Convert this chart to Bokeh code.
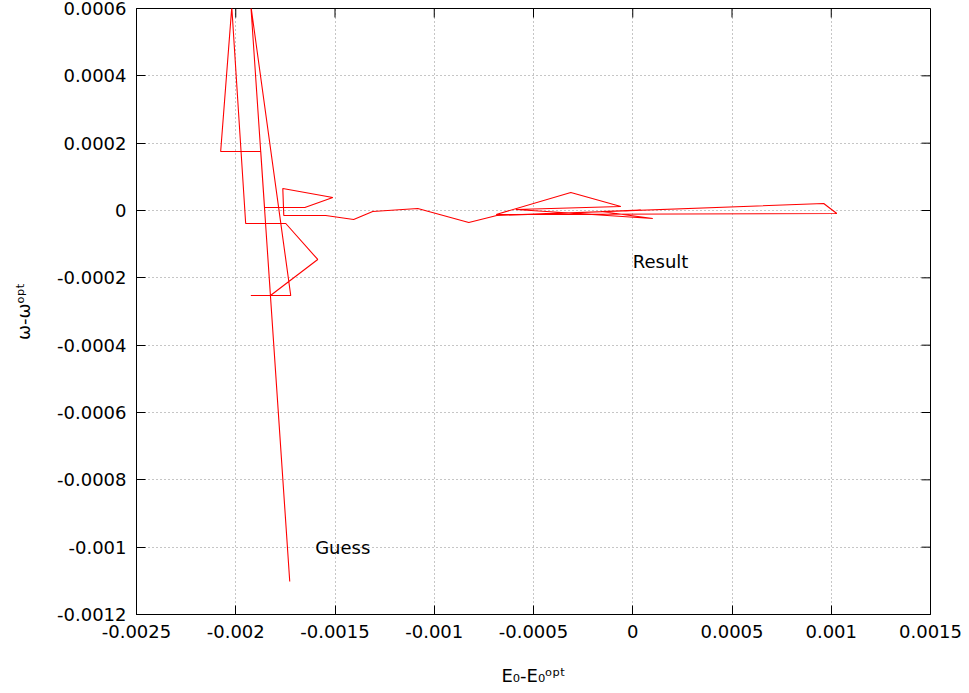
from bokeh.embed import file_html
from bokeh.models import FixedTicker, Label, Range1d
from bokeh.plotting import figure
from bokeh.resources import INLINE

# Optimisation path in the (E0 - E0opt, omega - omega_opt) plane, starting at the guess
e0_diff = [-1.728e-3, -1.924e-3, -1.723e-3, -1.924e-3, -1.825e-3, -1.587e-3,
           -1.748e-3, -1.950e-3, -2.020e-3, -2.076e-3, -1.874e-3, -1.855e-3,
           -1.652e-3, -1.511e-3, -1.763e-3, -1.758e-3, -1.547e-3, -1.406e-3,
           -1.310e-3, -1.083e-3, -0.826e-3, -0.685e-3, 0.962e-3, 1.028e-3,
           -0.688e-3, -0.312e-3, -0.060e-3, -0.589e-3, 0.101e-3, -0.161e-3,
           0.040e-3, -0.035e-3, 0.0]
omega_diff = [-1.102e-3, 0.609e-3, -0.2525e-3, -0.2525e-3, -0.2525e-3, -0.1455e-3,
              -0.0386e-3, -0.0386e-3, 0.604e-3, 0.1752e-3, 0.1752e-3, 0.009e-3,
              0.009e-3, 0.0386e-3, 0.0653e-3, -0.0149e-3, -0.0149e-3, -0.0267e-3,
              -0.003e-3, 0.006e-3, -0.0356e-3, -0.0149e-3, 0.0208e-3, -0.0089e-3,
              -0.0119e-3, 0.0535e-3, 0.012e-3, 0.003e-3, -0.0238e-3, -0.003e-3,
              0.0015e-3, -0.0015e-3, 0.0]

x_ticks = [-0.0025, -0.002, -0.0015, -0.001, -0.0005, 0.0, 0.0005, 0.001, 0.0015]
x_tick_labels = ["-0.0025", "-0.002", "-0.0015", "-0.001", "-0.0005", "0",
                 "0.0005", "0.001", "0.0015"]
y_ticks = [0.0006, 0.0004, 0.0002, 0.0, -0.0002, -0.0004, -0.0006, -0.0008,
           -0.001, -0.0012]
y_tick_labels = ["0.0006", "0.0004", "0.0002", "0", "-0.0002", "-0.0004",
                 "-0.0006", "-0.0008", "-0.001", "-0.0012"]

x_title = "E\u2080-E\u2080\u1d52\u1d56\u1d57"
y_title = "\u03c9-\u03c9\u1d52\u1d56\u1d57"

X_MIN, X_MAX = -0.0025, 0.0015
Y_MIN, Y_MAX = -0.0012, 0.0006

W, H = 969, 693
LEFT, RIGHT, TOP, BOTTOM = 136, 39, 8, 79
FRAME_W = W - LEFT - RIGHT
FRAME_H = H - TOP - BOTTOM

FONT = "DejaVu Sans"
FS = "18px"

p = figure(width=W, height=H, x_range=Range1d(X_MIN, X_MAX),
           y_range=Range1d(Y_MIN, Y_MAX), output_backend="svg",
           toolbar_location=None, min_border_left=LEFT, min_border_right=RIGHT,
           min_border_top=TOP, min_border_bottom=BOTTOM)
p.background_fill_color = "white"
p.border_fill_color = "white"
p.outline_line_color = "black"
p.outline_line_width = 1

p.xaxis.axis_label = x_title
p.yaxis.axis_label = y_title
p.xaxis.axis_label_standoff = 24
p.yaxis.axis_label_standoff = 20

for ax, ticks, labels in ((p.xaxis[0], x_ticks, x_tick_labels),
                          (p.yaxis[0], y_ticks, y_tick_labels)):
    ax.ticker = FixedTicker(ticks=ticks)
    ax.major_label_overrides = dict(zip(ticks, labels))
    ax.major_label_text_font = FONT
    ax.major_label_text_font_size = FS
    ax.major_label_text_color = "black"
    ax.axis_label_text_font = FONT
    ax.axis_label_text_font_size = FS
    ax.axis_label_text_font_style = "normal"
    ax.axis_label_text_color = "black"
    ax.major_tick_in = 9
    ax.major_tick_out = 0
    ax.major_tick_line_color = "black"
    ax.minor_tick_line_color = None
    ax.axis_line_color = "black"
    ax.major_label_standoff = 10

for g in (p.xgrid[0], p.ygrid[0]):
    g.grid_line_color = "#8c8c8c"
    g.grid_line_dash = "1 3"
    g.grid_line_width = 1

# mirrored inward ticks on the top and right edges
tick_dy = 9 * (Y_MAX - Y_MIN) / FRAME_H
tick_dx = 9 * (X_MAX - X_MIN) / FRAME_W
p.segment(x0=x_ticks, y0=[Y_MAX] * len(x_ticks), x1=x_ticks,
          y1=[Y_MAX - tick_dy] * len(x_ticks), line_color="black", line_width=1)
p.segment(x0=[X_MAX] * len(y_ticks), y0=y_ticks, x1=[X_MAX - tick_dx] * len(y_ticks),
          y1=y_ticks, line_color="black", line_width=1)

p.line(e0_diff, omega_diff, line_color="#ff0000", line_width=1.1)

for txt, x, y in (("Guess", -0.0016, -0.001), ("Result", 0.0, -0.00015)):
    p.add_layout(Label(x=x, y=y, text=txt, text_font=FONT, text_font_size=FS,
                       text_align="left", text_baseline="middle", text_color="black"))

open("out.html", "w").write(file_html(p, INLINE))
